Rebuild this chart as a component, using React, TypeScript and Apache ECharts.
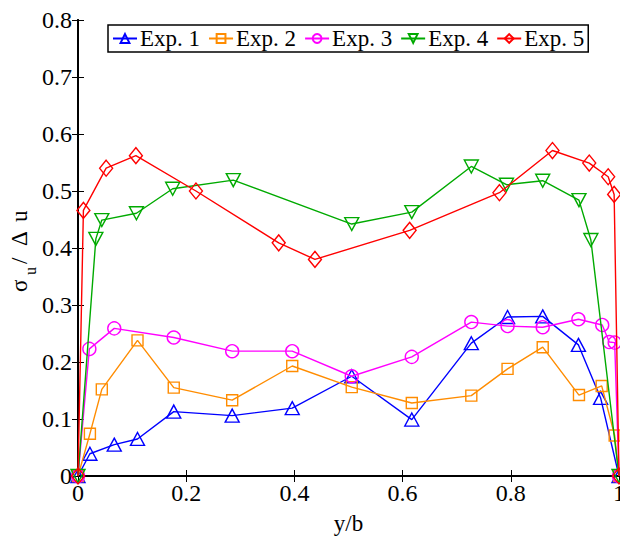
import React, { useEffect, useRef } from "react";
import * as echarts from "echarts";

const exp1X = [0, 0.022, 0.067, 0.110, 0.177, 0.285, 0.396, 0.506, 0.617, 0.727, 0.794, 0.859, 0.925, 0.966, 1];
const exp1Y = [0, 0.039, 0.055, 0.065, 0.113, 0.106, 0.119, 0.175, 0.099, 0.233, 0.279, 0.280, 0.230, 0.137, 0];

const exp2X = [0, 0.022, 0.044, 0.110, 0.177, 0.285, 0.396, 0.506, 0.617, 0.727, 0.794, 0.859, 0.926, 0.968, 0.992, 1];
const exp2Y = [0, 0.074, 0.152, 0.238, 0.155, 0.133, 0.193, 0.156, 0.128, 0.141, 0.188, 0.226, 0.142, 0.158, 0.071, 0];

const exp3X = [0, 0.021, 0.067, 0.177, 0.285, 0.396, 0.506, 0.617, 0.727, 0.794, 0.859, 0.925, 0.969, 0.982, 0.992, 1];
const exp3Y = [0, 0.223, 0.259, 0.243, 0.219, 0.219, 0.175, 0.209, 0.270, 0.263, 0.261, 0.275, 0.265, 0.235, 0.234, 0];

const exp4X = [0, 0.033, 0.044, 0.108, 0.175, 0.287, 0.506, 0.617, 0.727, 0.792, 0.859, 0.926, 0.948, 1];
const exp4Y = [0, 0.416, 0.449, 0.461, 0.504, 0.519, 0.442, 0.463, 0.543, 0.511, 0.518, 0.484, 0.414, 0];

const exp5X = [0, 0.010, 0.052, 0.107, 0.218, 0.371, 0.438, 0.613, 0.779, 0.877, 0.945, 0.980, 0.991, 1];
const exp5Y = [0, 0.466, 0.540, 0.562, 0.500, 0.409, 0.380, 0.431, 0.497, 0.571, 0.549, 0.525, 0.494, 0];

const seriesNames = ["Exp. 1", "Exp. 2", "Exp. 3", "Exp. 4", "Exp. 5"];
const xLabel = "y/b";

const FONT = "Liberation Serif, Times New Roman, DejaVu Serif, serif";

function zip(xs: number[], ys: number[]) {
  return xs.map((x, i) => [x, ys[i]]);
}

export default function App() {
  const ref = useRef<HTMLDivElement>(null);
  useEffect(() => {
    if (!ref.current) return;
    const chart = echarts.init(ref.current, undefined, { renderer: "svg" });
    const styles = [
      { color: "#0000ff", symbol: "triangle", size: [14, 13], rot: 0 },
      { color: "#ff8c00", symbol: "rect", size: [11, 11], rot: 0 },
      { color: "#ff00ff", symbol: "circle", size: [13, 13], rot: 0 },
      { color: "#00aa00", symbol: "triangle", size: [14, 13], rot: 180 },
      { color: "#ff0000", symbol: "diamond", size: [13, 16], rot: 0 },
    ];
    const datas = [zip(exp1X, exp1Y), zip(exp2X, exp2Y), zip(exp3X, exp3Y), zip(exp4X, exp4Y), zip(exp5X, exp5Y)];
    const fmt = (v: number) => String(Number(v.toFixed(2)));
    const axisLine = { show: true, lineStyle: { color: "#000", width: 2 } };
    const tickIn = { show: true, inside: true, length: 6, lineStyle: { color: "#000", width: 1 } };
    const lab = (t: string, x: number, y: number, size: number) => ({
      type: "text",
      x,
      y,
      style: { text: t, fontFamily: FONT, fontSize: size, fill: "#000", align: "left", verticalAlign: "middle" },
    });
    chart.setOption({
      animation: false,
      backgroundColor: "#fff",
      grid: { left: 78, right: 7, top: 20, bottom: 63, containLabel: false },
      legend: {
        data: seriesNames,
        left: 108,
        top: 25,
        orient: "horizontal",
        itemWidth: 24,
        itemHeight: 11,
        itemGap: 8,
        padding: [2, 4, 2, 4],
        borderColor: "#000",
        borderWidth: 1.5,
        backgroundColor: "#fff",
        textStyle: { fontFamily: FONT, fontSize: 23, color: "#000", padding: [0, 0, 0, -2] },
      },
      xAxis: [
        {
          type: "value",
          min: 0,
          max: 1,
          interval: 0.2,
          position: "bottom",
          name: xLabel,
          nameLocation: "middle",
          nameGap: 36,
          nameTextStyle: { fontFamily: FONT, fontSize: 23, color: "#000" },
          axisLine,
          axisTick: tickIn,
          splitLine: { show: false },
          axisLabel: { formatter: fmt, fontFamily: FONT, fontSize: 24, color: "#000", margin: 5 },
        },
        {
          type: "value",
          min: 0,
          max: 1,
          interval: 0.2,
          position: "top",
          axisLine,
          axisTick: tickIn,
          splitLine: { show: false },
          axisLabel: { show: false },
        },
      ],
      yAxis: [
        {
          type: "value",
          min: 0,
          max: 0.8,
          interval: 0.1,
          position: "left",
          axisLine,
          axisTick: tickIn,
          splitLine: { show: false },
          axisLabel: { formatter: fmt, fontFamily: FONT, fontSize: 24, color: "#000", margin: 6 },
        },
        {
          type: "value",
          min: 0,
          max: 0.8,
          interval: 0.1,
          position: "right",
          axisLine,
          axisTick: tickIn,
          splitLine: { show: false },
          axisLabel: { show: false },
        },
      ],
      graphic: [
        {
          type: "group",
          x: 19,
          y: 292,
          rotation: Math.PI / 2,
          children: [
            lab("σ", 0, 0, 23),
            lab("u", 17, 11, 16),
            lab("/", 28, 0, 23),
            lab("Δ", 46, 0, 23),
            lab("u", 70, 0, 23),
          ],
        },
      ],
      series: datas.map((d, i) => ({
        name: seriesNames[i],
        type: "line",
        xAxisIndex: 0,
        yAxisIndex: 0,
        data: d,
        symbol: styles[i].symbol,
        symbolSize: styles[i].size,
        symbolRotate: styles[i].rot,
        showAllSymbol: true,
        clip: false,
        lineStyle: { color: styles[i].color, width: 1.4 },
        itemStyle: { color: "rgba(255,255,255,0)", borderColor: styles[i].color, borderWidth: 1.4 },
        emphasis: { disabled: true },
        z: 2 + i,
      })),
    });
    return () => chart.dispose();
  }, []);
  return <div ref={ref} style={{ width: 628, height: 540, marginLeft: -8, marginTop: -8 }} />;
}
